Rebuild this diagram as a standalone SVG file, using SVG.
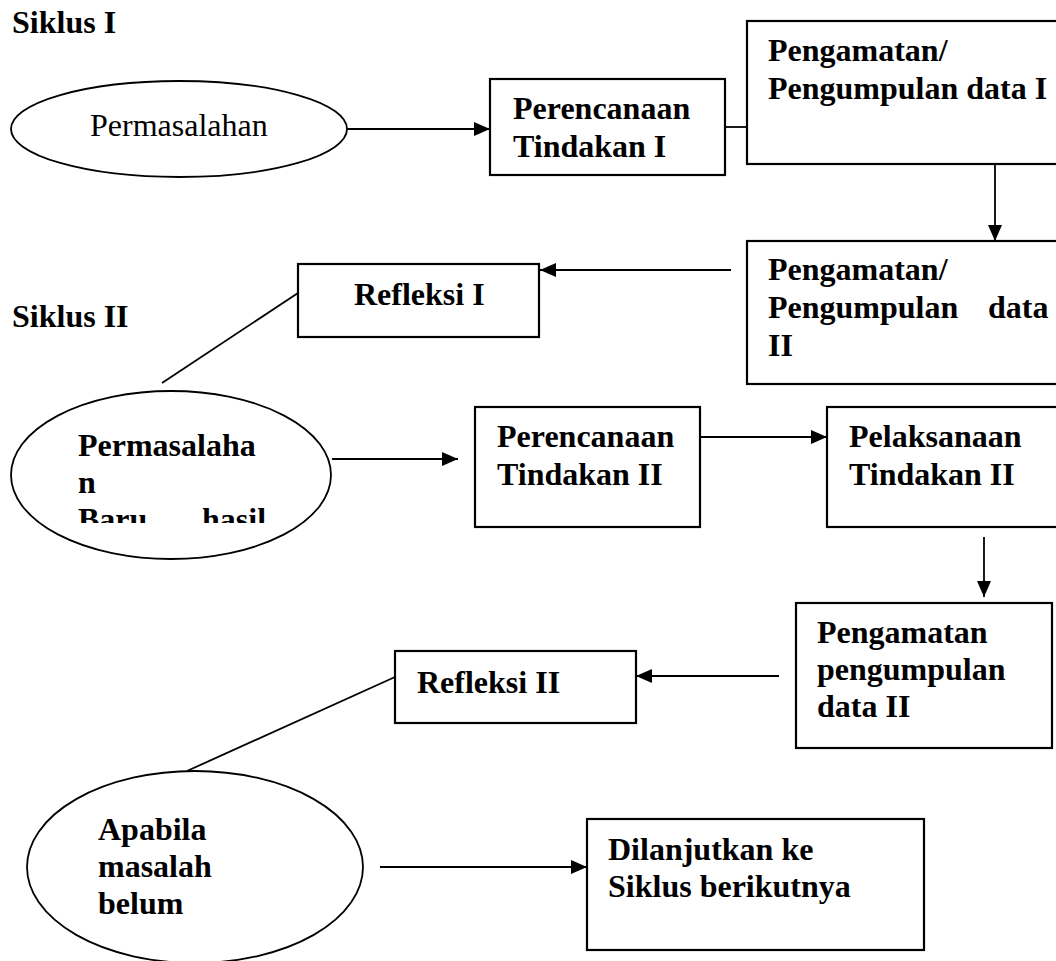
<svg xmlns="http://www.w3.org/2000/svg" width="1056" height="961" viewBox="0 0 1056 961">
<style>
  .t{font-family:"Liberation Serif","Times New Roman",serif;font-size:32px;fill:#000}
  .b{font-weight:bold}
  .box{fill:#fff;stroke:#000;stroke-width:2.2}
  .ell{fill:#fff;stroke:#000;stroke-width:1.8}
  .ln{fill:none;stroke:#000;stroke-width:1.8}
</style>
<defs>
  <marker id="ah" markerUnits="userSpaceOnUse" markerWidth="17" markerHeight="15" refX="16" refY="7.5" orient="auto">
    <path d="M0,0.5 L16,7.5 L0,14.5 z" fill="#000"/>
  </marker>
  <clipPath id="clipE2"><rect x="60" y="410" width="230" height="113"/></clipPath>
</defs>
<rect width="1056" height="961" fill="#fff"/>

<g id="labels">
  <text class="t b" x="12" y="33">Siklus I</text>
  <text class="t b" x="12" y="327">Siklus II</text>
</g>

<g id="connectors">
  <line class="ln" x1="347" y1="129" x2="490" y2="129" marker-end="url(#ah)"/>
  <line class="ln" x1="725" y1="127" x2="747" y2="127"/>
  <line class="ln" x1="995" y1="164" x2="995" y2="241" marker-end="url(#ah)"/>
  <line class="ln" x1="731" y1="270" x2="540" y2="270" marker-end="url(#ah)"/>
  <line class="ln" x1="298" y1="293" x2="162" y2="383"/>
  <line class="ln" x1="332" y1="459" x2="458" y2="459" marker-end="url(#ah)"/>
  <line class="ln" x1="700" y1="437" x2="827" y2="437" marker-end="url(#ah)"/>
  <line class="ln" x1="984" y1="537" x2="984" y2="597" marker-end="url(#ah)"/>
  <line class="ln" x1="779" y1="676" x2="636" y2="676" marker-end="url(#ah)"/>
  <line class="ln" x1="395" y1="677" x2="187" y2="771"/>
  <line class="ln" x1="380" y1="867" x2="587" y2="867" marker-end="url(#ah)"/>
</g>

<g id="permasalahan">
  <ellipse class="ell" cx="179" cy="129" rx="168" ry="48"/>
  <text class="t" x="90" y="136">Permasalahan</text>
</g>

<g id="perencanaan1">
  <rect class="box" x="490" y="79" width="235" height="96"/>
  <text class="t b" x="513" y="119">Perencanaan</text>
  <text class="t b" x="513" y="157">Tindakan I</text>
</g>

<g id="pengamatan1">
  <rect class="box" x="747" y="21" width="320" height="143"/>
  <text class="t b" x="768" y="61">Pengamatan/</text>
  <text class="t b" x="768" y="99">Pengumpulan data I</text>
</g>

<g id="pengamatan2">
  <rect class="box" x="747" y="241" width="320" height="143"/>
  <text class="t b" x="768" y="280">Pengamatan/</text>
  <text class="t b" y="318"><tspan x="768">Pengumpulan</tspan><tspan x="988">data</tspan></text>
  <text class="t b" x="768" y="356">II</text>
</g>

<g id="refleksi1">
  <rect class="box" x="298" y="264" width="241" height="73"/>
  <text class="t b" x="354" y="305">Refleksi I</text>
</g>

<g id="permasalahan-baru">
  <ellipse class="ell" cx="171" cy="475" rx="160" ry="84"/>
  <g clip-path="url(#clipE2)">
    <text class="t b" x="78" y="456">Permasalaha</text>
    <text class="t b" x="78" y="493">n</text>
    <text class="t b" y="530"><tspan x="78">Baru</tspan><tspan x="202">hasil</tspan></text>
  </g>
</g>

<g id="perencanaan2">
  <rect class="box" x="475" y="407" width="225" height="120"/>
  <text class="t b" x="497" y="447">Perencanaan</text>
  <text class="t b" x="497" y="485">Tindakan II</text>
</g>

<g id="pelaksanaan2">
  <rect class="box" x="827" y="407" width="240" height="120"/>
  <text class="t b" x="849" y="447">Pelaksanaan</text>
  <text class="t b" x="849" y="485">Tindakan II</text>
</g>

<g id="pengamatan3">
  <rect class="box" x="796" y="603" width="256" height="145"/>
  <text class="t b" x="817" y="643">Pengamatan</text>
  <text class="t b" x="817" y="680">pengumpulan</text>
  <text class="t b" x="817" y="717">data II</text>
</g>

<g id="refleksi2">
  <rect class="box" x="395" y="651" width="241" height="72"/>
  <text class="t b" x="417" y="693">Refleksi II</text>
</g>

<g id="apabila">
  <ellipse class="ell" cx="195" cy="867" rx="168" ry="96"/>
  <text class="t b" x="98" y="840">Apabila</text>
  <text class="t b" x="98" y="877">masalah</text>
  <text class="t b" x="98" y="914">belum</text>
</g>

<g id="dilanjutkan">
  <rect class="box" x="587" y="819" width="337" height="131"/>
  <text class="t b" x="608" y="860">Dilanjutkan ke</text>
  <text class="t b" x="608" y="897">Siklus berikutnya</text>
</g>
</svg>
